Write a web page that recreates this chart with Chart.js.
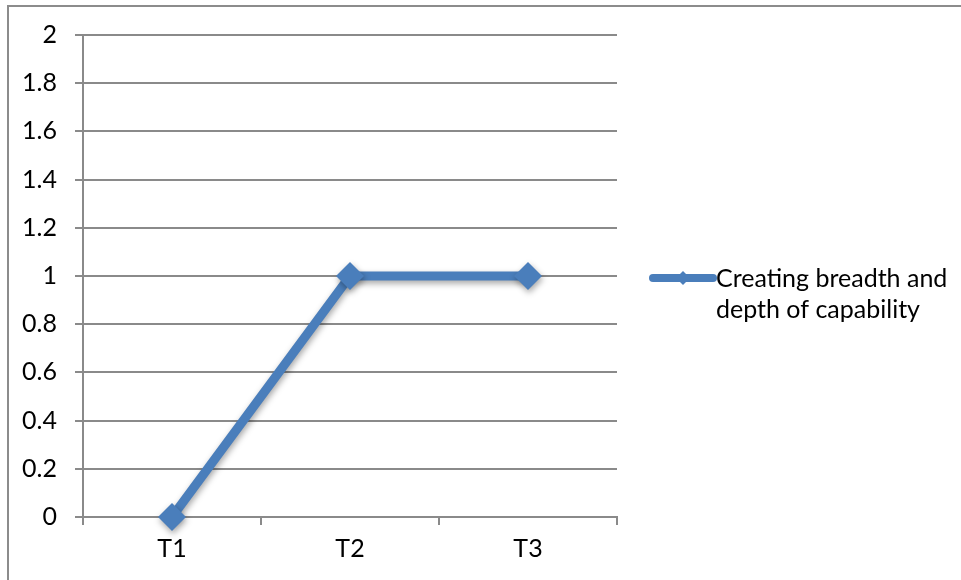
<!DOCTYPE html>
<html>
<head>
<meta charset="utf-8">
<script src="https://cdn.jsdelivr.net/npm/chart.js@4"></script>
<style>
  html, body { margin: 0; padding: 0; background: #fff; }
  #wrap { position: relative; width: 961px; height: 580px; overflow: hidden; }
</style>
</head>
<body>
<div id="wrap"><canvas id="chart" width="961" height="580"></canvas></div>
<script>
const categories = ["T1", "T2", "T3"];
const seriesName = "Creating breadth and depth of capability";
const seriesValues = [0, 1, 1];
const yTicks = [0, 0.2, 0.4, 0.6, 0.8, 1, 1.2, 1.4, 1.6, 1.8, 2];

const LINE_BLUE = "#4a7ebb";
const GRID_GREY = "#8a8a8a";
const FONT = { family: "Lato, 'Open Sans', sans-serif", size: 25 };

// outer frame of the chart box, only top and left edges are on screen
const framePlugin = {
  id: "frame",
  beforeDraw(chart) {
    const ctx = chart.ctx;
    ctx.save();
    ctx.strokeStyle = "#8c8c8c";
    ctx.lineWidth = 2;
    ctx.beginPath();
    ctx.moveTo(8, chart.height);
    ctx.lineTo(8, 6);
    ctx.lineTo(chart.width, 6);
    ctx.stroke();
    ctx.restore();
  },
};

// soft drop shadow under the line and its markers
const shadowPlugin = {
  id: "seriesShadow",
  beforeDatasetDraw(chart) {
    const ctx = chart.ctx;
    ctx.save();
    ctx.shadowColor = "rgba(0,0,0,0.35)";
    ctx.shadowBlur = 6;
    ctx.shadowOffsetX = 1;
    ctx.shadowOffsetY = 3;
  },
  afterDatasetDraw(chart) {
    chart.ctx.restore();
  },
};

function wrapText(ctx, text, maxWidth) {
  const words = text.split(" ");
  const lines = [];
  let cur = "";
  words.forEach((w) => {
    const test = cur ? cur + " " + w : w;
    if (cur && ctx.measureText(test).width > maxWidth) {
      lines.push(cur);
      cur = w;
    } else {
      cur = test;
    }
  });
  if (cur) lines.push(cur);
  return lines;
}

// legend on the right: line swatch with diamond, label wrapped on two lines
const sideLegend = {
  id: "sideLegend",
  afterDraw(chart) {
    const ctx = chart.ctx;
    const ds = chart.data.datasets[0];
    const x0 = 653, x1 = 713, y = 278;
    ctx.save();
    ctx.strokeStyle = ds.borderColor;
    ctx.lineWidth = 8;
    ctx.lineCap = "round";
    ctx.beginPath();
    ctx.moveTo(x0, y);
    ctx.lineTo(x1, y);
    ctx.stroke();
    ctx.fillStyle = ds.borderColor;
    const m = (x0 + x1) / 2, r = 7;
    ctx.beginPath();
    ctx.moveTo(m - r, y);
    ctx.lineTo(m, y - r);
    ctx.lineTo(m + r, y);
    ctx.lineTo(m, y + r);
    ctx.closePath();
    ctx.fill();

    ctx.font = FONT.size + "px " + FONT.family;
    ctx.fillStyle = "#000";
    ctx.textBaseline = "alphabetic";
    ctx.textAlign = "left";
    wrapText(ctx, ds.label, 240).forEach((ln, i) => {
      ctx.fillText(ln, 716, 287 + i * 31);
    });
    ctx.restore();
  },
};

new Chart(document.getElementById("chart"), {
  type: "line",
  data: {
    labels: categories,
    datasets: [
      {
        label: seriesName,
        data: seriesValues,
        borderColor: LINE_BLUE,
        backgroundColor: LINE_BLUE,
        borderWidth: 9,
        pointStyle: "rectRot",
        pointRadius: 14,
        pointBorderWidth: 0,
        pointBackgroundColor: LINE_BLUE,
        tension: 0,
        clip: false,
      },
    ],
  },
  options: {
    responsive: false,
    animation: false,
    layout: { padding: { left: 0, right: 344, top: 35, bottom: 0 } },
    plugins: { legend: { display: false }, tooltip: { enabled: false } },
    scales: {
      x: {
        offset: true,
        grid: {
          offset: true,
          drawOnChartArea: false,
          drawTicks: true,
          tickLength: 8,
          color: GRID_GREY,
          lineWidth: 2,
        },
        border: { color: GRID_GREY, width: 2 },
        ticks: { color: "#000", font: FONT, padding: 9, maxRotation: 0 },
        afterFit: (scale) => {
          scale.height = 63;
        },
      },
      y: {
        min: 0,
        max: 2,
        afterBuildTicks: (scale) => {
          scale.ticks = yTicks.map((v) => ({ value: v }));
        },
        grid: { color: GRID_GREY, lineWidth: 2, tickLength: 8 },
        border: { color: GRID_GREY, width: 2 },
        ticks: {
          color: "#000",
          font: FONT,
          padding: 18,
          callback: (v) => String(v),
        },
        afterFit: (scale) => {
          scale.width = 83;
        },
      },
    },
  },
  plugins: [framePlugin, shadowPlugin, sideLegend],
});
</script>
</body>
</html>
